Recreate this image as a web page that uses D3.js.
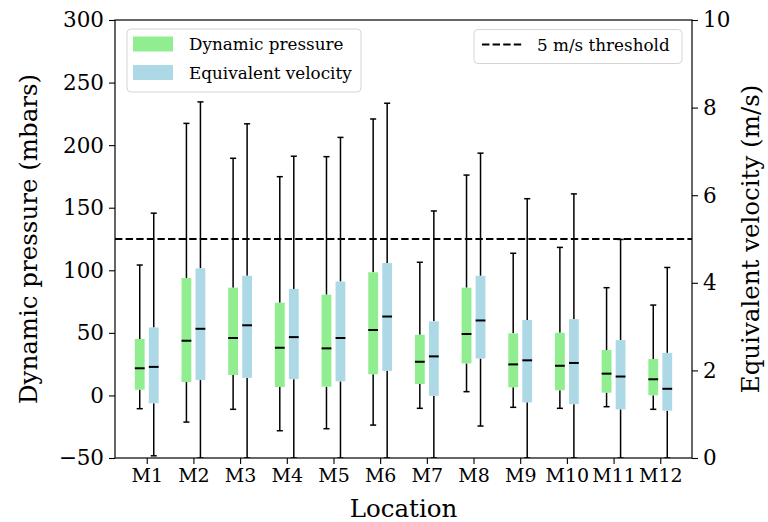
<!DOCTYPE html>
<html>
<head>
<meta charset="utf-8">
<script src="https://cdn.jsdelivr.net/npm/d3@7"></script>
<style>
  html, body { margin: 0; padding: 0; background: #fff; }
  svg { display: block; }
  text { font-family: "DejaVu Serif", serif; fill: #000; }
</style>
</head>
<body>
<svg id="chart" width="768" height="522"></svg>
<script>
// ---- data ----
const categories = ["M1","M2","M3","M4","M5","M6","M7","M8","M9","M10","M11","M12"];

// Dynamic pressure (mbars) box statistics
const pressureLow  = [-10.6, -21.3, -11.1, -28.2, -26.6, -23.7, -10.3, 3.0, -9.5, -10.3, -9.0, -11.1];
const pressureQ1   = [4.6, 10.7, 16.3, 6.7, 7.0, 16.9, 9.1, 25.6, 6.5, 4.1, 2.2, 0.1];
const pressureMed  = [21.7, 43.7, 45.9, 38.1, 37.6, 52.3, 26.9, 49.1, 24.8, 23.7, 17.4, 12.9];
const pressureQ3   = [45.1, 93.8, 86.1, 74.1, 80.5, 98.4, 48.5, 86.1, 49.6, 50.1, 36.3, 29.1];
const pressureHigh = [104.2, 217.4, 189.5, 174.8, 190.8, 220.9, 106.4, 176.1, 113.6, 118.3, 86.1, 72.2];

// Equivalent velocity (m/s) box statistics
const velocityLow  = [0.05, 0, 0, 0, 0, 0, 0, 0.73, 0, 0, 0, 0];
const velocityQ1   = [1.25, 1.78, 1.83, 1.80, 1.75, 1.99, 1.42, 2.27, 1.27, 1.23, 1.11, 1.08];
const velocityMed  = [2.08, 2.95, 3.03, 2.76, 2.74, 3.23, 2.32, 3.14, 2.23, 2.17, 1.86, 1.58];
const velocityQ3   = [2.98, 4.33, 4.16, 3.86, 4.03, 4.45, 3.12, 4.16, 3.15, 3.17, 2.69, 2.40];
const velocityHigh = [5.59, 8.13, 7.63, 6.89, 7.32, 8.10, 5.64, 6.96, 5.92, 6.03, 4.99, 4.35];

const thresholdVelocity = 5;
const leftTicks  = [-50, 0, 50, 100, 150, 200, 250, 300];
const rightTicks = [0, 2, 4, 6, 8, 10];
const legendLabels = ["Dynamic pressure", "Equivalent velocity"];
const thresholdLabel = "5 m/s threshold";

// ---- layout ----
const W = 768, H = 522;
const margin = {top: 20, right: 76, bottom: 64, left: 115};
const svg = d3.select("#chart");
const green = "#90ee90", blue = "#add8e6";

const x = d3.scaleLinear().domain([0.32, 12.68]).range([margin.left, W - margin.right]);
const yL = d3.scaleLinear().domain([-50, 300]).range([H - margin.bottom, margin.top]);
const yR = d3.scaleLinear().domain([0, 10]).range([H - margin.bottom, margin.top]);

const offset = 0.15, boxW = 0.21, capW = 0.13;
const pxW = x(boxW) - x(0), pxCap = x(capW) - x(0);

function series(low, q1, med, q3, high) {
  return categories.map((c, i) => ({i: i + 1, low: low[i], q1: q1[i], med: med[i], q3: q3[i], high: high[i]}));
}
const pData = series(pressureLow, pressureQ1, pressureMed, pressureQ3, pressureHigh);
const vData = series(velocityLow, velocityQ1, velocityMed, velocityQ3, velocityHigh);

const clipId = "plotclip";
svg.append("defs").append("clipPath").attr("id", clipId)
  .append("rect").attr("x", margin.left).attr("y", margin.top)
  .attr("width", W - margin.left - margin.right).attr("height", H - margin.top - margin.bottom);

const plot = svg.append("g").attr("clip-path", `url(#${clipId})`);

function drawBoxes(data, y, dx, color) {
  const g = plot.append("g");
  const grp = g.selectAll("g").data(data).join("g");
  const cx = d => x(d.i + dx);
  // whiskers
  grp.append("line").attr("x1", cx).attr("x2", cx)
    .attr("y1", d => y(d.q3)).attr("y2", d => y(d.high))
    .attr("stroke", "#000").attr("stroke-width", 1.5);
  grp.append("line").attr("x1", cx).attr("x2", cx)
    .attr("y1", d => y(d.q1)).attr("y2", d => y(d.low))
    .attr("stroke", "#000").attr("stroke-width", 1.5);
  // caps
  grp.append("line").attr("x1", d => cx(d) - pxCap / 2).attr("x2", d => cx(d) + pxCap / 2)
    .attr("y1", d => y(d.high)).attr("y2", d => y(d.high))
    .attr("stroke", "#000").attr("stroke-width", 1.5);
  grp.append("line").attr("x1", d => cx(d) - pxCap / 2).attr("x2", d => cx(d) + pxCap / 2)
    .attr("y1", d => y(d.low)).attr("y2", d => y(d.low))
    .attr("stroke", "#000").attr("stroke-width", 1.5);
  // box
  grp.append("rect").attr("x", d => cx(d) - pxW / 2).attr("width", pxW)
    .attr("y", d => y(d.q3)).attr("height", d => y(d.q1) - y(d.q3))
    .attr("fill", color);
  // median
  grp.append("line").attr("x1", d => cx(d) - pxW / 2).attr("x2", d => cx(d) + pxW / 2)
    .attr("y1", d => y(d.med)).attr("y2", d => y(d.med))
    .attr("stroke", "#000").attr("stroke-width", 2);
}
drawBoxes(pData, yL, -offset, green);
drawBoxes(vData, yR, offset, blue);

// threshold line
plot.append("line")
  .attr("x1", margin.left).attr("x2", W - margin.right)
  .attr("y1", yR(thresholdVelocity)).attr("y2", yR(thresholdVelocity))
  .attr("stroke", "#000").attr("stroke-width", 2).attr("stroke-dasharray", "7.4,3.2");

// axes
const fmt = d3.format("");
const axL = svg.append("g").attr("transform", `translate(${margin.left},0)`)
  .call(d3.axisLeft(yL).tickValues(leftTicks).tickSize(6).tickPadding(5).tickFormat(d => d < 0 ? "\u2212" + Math.abs(d) : d));
const axR = svg.append("g").attr("transform", `translate(${W - margin.right},0)`)
  .call(d3.axisRight(yR).tickValues(rightTicks).tickSize(6).tickPadding(5));
const axB = svg.append("g").attr("transform", `translate(0,${H - margin.bottom})`)
  .call(d3.axisBottom(x).tickValues(categories.map((c, i) => i + 1)).tickSize(6).tickPadding(5)
    .tickFormat((d) => categories[d - 1]));
[axL, axR, axB].forEach(a => {
  a.select(".domain").remove();
  a.selectAll(".tick line").attr("stroke", "#000").attr("stroke-width", 1.1);
  a.selectAll(".tick text").attr("font-family", "DejaVu Serif").attr("fill", "#000");
});
axL.selectAll(".tick text").attr("font-size", 21.5);
axR.selectAll(".tick text").attr("font-size", 21.5);
axB.selectAll(".tick text").attr("font-size", 19);

// spines
svg.append("rect").attr("x", margin.left).attr("y", margin.top)
  .attr("width", W - margin.left - margin.right).attr("height", H - margin.top - margin.bottom)
  .attr("fill", "none").attr("stroke", "#000").attr("stroke-width", 1.2);

// axis labels
svg.append("text").attr("transform", `translate(28,${(margin.top + H - margin.bottom) / 2}) rotate(-90)`)
  .attr("text-anchor", "middle").attr("dominant-baseline", "central").attr("font-size", 24.5)
  .text("Dynamic pressure (mbars)");
svg.append("text").attr("transform", `translate(750,${(margin.top + H - margin.bottom) / 2}) rotate(-90)`)
  .attr("text-anchor", "middle").attr("dominant-baseline", "central").attr("font-size", 24.5)
  .text("Equivalent velocity (m/s)");
svg.append("text").attr("x", (margin.left + W - margin.right) / 2).attr("y", 517)
  .attr("text-anchor", "middle").attr("font-size", 24.5).text("Location");

// legend 1
const lg1 = svg.append("g");
lg1.append("rect").attr("x", 127).attr("y", 29).attr("width", 234).attr("height", 63).attr("rx", 4)
  .attr("fill", "#fff").attr("fill-opacity", 0.8).attr("stroke", "#d5d5d5").attr("stroke-width", 1);
[green, blue].forEach((c, k) => {
  const cy = 44 + k * 28.5;
  lg1.append("rect").attr("x", 133).attr("y", cy - 7.5).attr("width", 40).attr("height", 15).attr("fill", c);
  lg1.append("text").attr("x", 189).attr("y", cy).attr("dominant-baseline", "central")
    .attr("font-size", 16.8).text(legendLabels[k]);
});

// legend 2
const lg2 = svg.append("g");
lg2.append("rect").attr("x", 474).attr("y", 29.5).attr("width", 208).attr("height", 34).attr("rx", 4)
  .attr("fill", "#fff").attr("fill-opacity", 0.8).attr("stroke", "#d5d5d5").attr("stroke-width", 1);
lg2.append("line").attr("x1", 482).attr("x2", 522).attr("y1", 44.5).attr("y2", 44.5)
  .attr("stroke", "#000").attr("stroke-width", 2).attr("stroke-dasharray", "7.4,3.2");
lg2.append("text").attr("x", 537).attr("y", 44.5).attr("dominant-baseline", "central")
  .attr("font-size", 16.8).text(thresholdLabel);
</script>
</body>
</html>
